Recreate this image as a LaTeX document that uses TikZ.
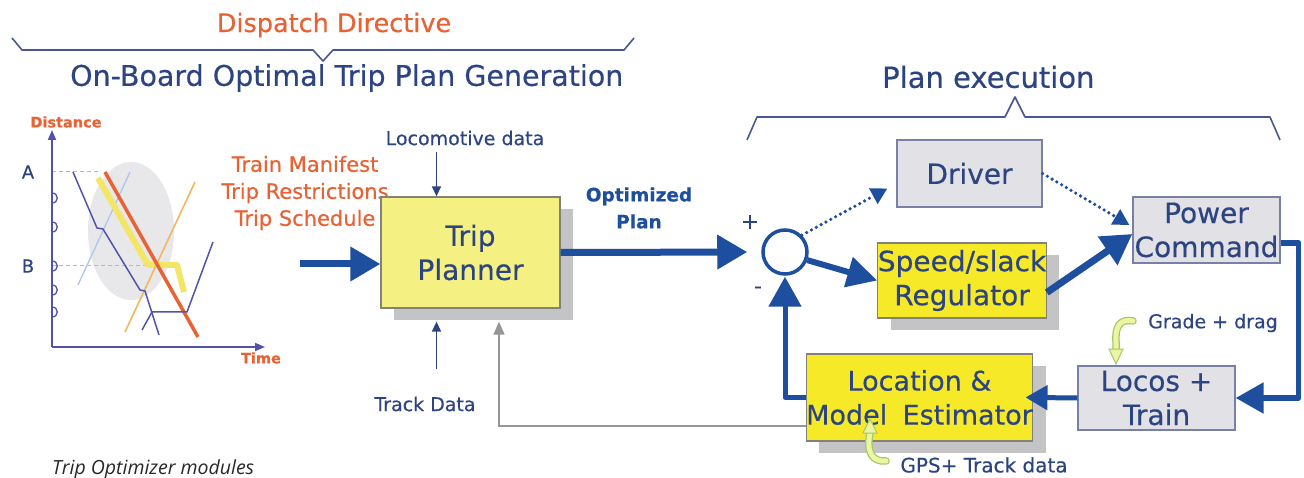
\documentclass[tikz,border=0pt]{standalone}
\usepackage{fontspec}
\setmainfont{DejaVu Sans}[FakeBold=0.4]
\newfontfamily\capfont{Open Sans}
\usetikzlibrary{arrows.meta,calc,shadows}

\definecolor{navy}{RGB}{45,68,130}
\definecolor{arrblue}{RGB}{30,78,158}
\definecolor{orng}{RGB}{232,98,52}
\definecolor{ltorng}{RGB}{245,182,95}
\definecolor{chartblue}{RGB}{82,82,168}
\definecolor{ltblue}{RGB}{175,198,235}
\definecolor{ylwline}{RGB}{242,230,100}
\definecolor{ellgray}{RGB}{232,232,235}
\definecolor{guidec}{RGB}{175,182,205}
\definecolor{bracec}{RGB}{72,88,150}
\definecolor{boxgray}{RGB}{226,226,230}
\definecolor{boxedge}{RGB}{120,128,165}
\definecolor{tpyel}{RGB}{244,240,130}
\definecolor{yel}{RGB}{246,234,40}
\definecolor{yedge}{RGB}{130,130,120}
\definecolor{shadowc}{RGB}{196,196,198}
\definecolor{fbgray}{RGB}{150,150,150}
\definecolor{sqfill}{RGB}{236,245,160}
\definecolor{sqedge}{RGB}{165,198,110}
\definecolor{capgray}{RGB}{40,40,40}

\begin{document}
\begin{tikzpicture}[x=1pt,y=-1pt,
  lbl/.style={inner sep=0pt, text=navy},
  box/.style={draw=boxedge, line width=1.3pt, inner sep=0pt, align=center, text=navy,
              font=\fontsize{28}{34}\selectfont},
  graybox/.style={box, fill=boxgray},
  ybox/.style={box, fill=yel, draw=yedge,
               drop shadow={shadow xshift=13pt, shadow yshift=-12pt, fill=shadowc, opacity=1}},
  bigarr/.style={draw=arrblue, line width=7pt, -{Triangle[length=30pt,width=33pt]}},
  thinarr/.style={draw=navy, line width=1.4pt, -{Triangle[length=10pt,width=9pt]}},
  dotarr/.style={draw=arrblue, line width=3.6pt, dash pattern=on 0pt off 5.5pt, line cap=round,
                 -{Triangle[length=16pt,width=17pt]}},
  bracestyle/.style={draw=bracec, line width=1.6pt, line join=round},
  axis/.style={draw=chartblue, line width=1.8pt, -{Triangle[length=10pt,width=8pt]}},
  guide/.style={draw=guidec, line width=1pt, dash pattern=on 4pt off 3pt},
]
\useasboundingbox (0,0) rectangle (1304,478);
\fill[white] (0,0) rectangle (1304,478);

% ---------- headings and braces ----------
\node[lbl, text=orng, font=\fontsize{25.5}{30}\selectfont] (dd) at (334,25) {Dispatch Directive};
\draw[bracestyle] (12,38) -- (22,50) -- (313,50) -- (323,61) -- (333,50) -- (624,50) -- (634,38);
\node[lbl, anchor=west, font=\fontsize{28.5}{34}\selectfont] (title) at (70,78) {On-Board Optimal Trip Plan Generation};

\node[lbl, anchor=west, font=\fontsize{29}{34}\selectfont] (pe) at (882,77) {Plan execution};
\draw[bracestyle] (747,140) -- (757,117) -- (1005,117) -- (1015,97) -- (1025,117) -- (1270,117) -- (1280,140);

% ---------- distance/time chart ----------
\fill[ellgray] (131,231) ellipse [x radius=43, y radius=69];
\draw[guide] (52,172) -- (100,172);
\draw[guide] (52,266) -- (152,266);
\draw[ltblue, line width=1.3pt] (78,285) -- (130,172);
\draw[ylwline, line width=6pt, line join=round] (98,178) -- (148,265) -- (177,265) -- (184,292);
\draw[ltorng, line width=1.6pt] (125,332) -- (195,182);
\draw[orng, line width=3.5pt] (105,172) -- (198,337);
\draw[chartblue, line width=1.5pt, line join=round] (73,172) -- (97,228) -- (103,229) -- (140,290) -- (145,291) -- (152,313) -- (159,335);
\draw[chartblue, line width=1.5pt, line join=round] (142,330) -- (152,312) -- (187,312) -- (213,242);
\draw[axis] (52,347) -- (52,130);
\draw[axis] (52,347) -- (265,347);
\foreach \yy in {198,227,266,290,312}
  \draw[chartblue, line width=1.3pt] (52,\yy-5) .. controls (59,\yy-5) and (59,\yy+5) .. (52,\yy+5);
\node[lbl, text=orng, font=\bfseries\fontsize{14.5}{17}\selectfont] (dist) at (66,122) {Distance};
\node[lbl, text=orng, font=\bfseries\fontsize{14.5}{17}\selectfont] (time) at (261,358) {Time};
\node[lbl, font=\fontsize{18}{20}\selectfont] (la) at (28,172) {A};
\node[lbl, font=\fontsize{18}{20}\selectfont] (lb) at (28,266) {B};

% ---------- inputs ----------
\node[lbl, text=orng, align=center, font=\fontsize{21}{27}\selectfont] (inputs) at (305,193)
  {Train Manifest\\Trip Restrictions\\Trip Schedule};

% ---------- Trip planner ----------
\node[ybox, fill=tpyel, minimum width=179pt, minimum height=111pt] (tp) at (470.5,252.5) {Trip\\Planner};
\node[lbl, font=\fontsize{19}{22}\selectfont] (locdata) at (465,138) {Locomotive data};
\node[lbl, font=\fontsize{19}{22}\selectfont] (trackdata) at (425,404) {Track Data};
\draw[thinarr] ([xshift=-34pt]tp.north |- 0,152) -- ([xshift=-34pt]tp.north);
\draw[thinarr] ([xshift=-34pt,yshift=-60pt]tp.south) -- ([xshift=-34pt,yshift=-13pt]tp.south);
\coordinate (inA) at (300,264);
\draw[bigarr] (inA) -- (inA -| tp.west);

\node[lbl, align=center, text=arrblue, font=\bfseries\fontsize{18.5}{27}\selectfont] (opt) at (639,208) {Optimized\\Plan};

% ---------- plan execution ----------
\node[circle, draw=arrblue, line width=3.5pt, minimum size=44pt, inner sep=0pt, fill=white] (sum) at (785,252) {};
\node[lbl, font=\fontsize{22}{24}\selectfont] (plus) at (750,222) {+};
\node[lbl, font=\fontsize{22}{24}\selectfont] (minus) at (758,290) {-};
\draw[bigarr, shorten >=14pt] (tp.east) -- (sum.west);

\node[graybox, minimum width=145pt, minimum height=67pt] (driver) at (969.5,173.5) {Driver};
\node[ybox, minimum width=160pt, minimum height=75pt] (reg) at (962,280.5) {Speed/slack\\Regulator};
\node[graybox, minimum width=147pt, minimum height=66pt] (power) at (1206.5,230) {Power\\Command};
\node[graybox, minimum width=157pt, minimum height=64pt] (locos) at (1156.5,398) {Locos +\\Train};

% gray feedback from estimator to trip planner
\draw[draw=fbgray, line width=1.6pt, -{Triangle[length=13pt,width=11pt]}]
  (820,426) -| ([xshift=28.5pt,yshift=-13pt]tp.south);
\node[ybox, minimum width=223pt, minimum height=87pt, font=\fontsize{27}{34}\selectfont] (loc) at (919.5,397.5)
  {Location \&\\Model\hspace{0.25em} Estimator};

\draw[dotarr] (sum.45) -- ([xshift=-9pt,yshift=-15pt]driver.west);
\draw[dotarr] (driver.east) -- ([xshift=-3pt,yshift=5pt]power.west);
\draw[draw=arrblue, line width=6pt, -{Triangle[length=30pt,width=30pt]}] (sum.-20) -- (reg.west);
\draw[bigarr] ([yshift=-12pt]reg.east) -- ([yshift=-4pt]power.west);
\draw[draw=arrblue, line width=5.5pt, line join=round, -{Triangle[length=28pt,width=30pt]}]
  ([yshift=-13pt]power.east) -- ++(18,0) |- (locos.east);
\draw[draw=arrblue, line width=5pt, -{Triangle[length=22pt,width=24pt]}, shorten >=-8pt] (locos.west) -- (loc.east);
\draw[draw=arrblue, line width=5pt, line join=round, -{Triangle[length=30pt,width=32pt]}, shorten >=1pt] (loc.west) -| (sum.south);

% ---------- side labels with squiggle arrows ----------
\node[lbl, font=\fontsize{19}{22}\selectfont] (grade) at (1213,323) {Grade + drag};
\node[lbl, font=\fontsize{20}{22}\selectfont] (gps) at (984,465) {GPS+ Track data};
\foreach \w/\c in {7.5/sqedge,5/sqfill}{
  \draw[\c, line width=\w pt, line cap=round] (1133,321) .. controls (1119,318) and (1115,328) .. (1116,342) -- (1116,350);
  \draw[\c, line width=\w pt, line cap=round] (886,461) .. controls (872,462) and (868,452) .. (869,440) -- (870,432);
}
\filldraw[fill=sqfill, draw=sqedge, line width=1pt] (1109,349) -- (1123,349) -- (1116,364) -- cycle;
\filldraw[fill=sqfill, draw=sqedge, line width=1pt] (863,433) -- (877,433) -- (870,419) -- cycle;

% ---------- caption ----------
\node[inner sep=0pt, anchor=west, text=capgray, font=\capfont\itshape\fontsize{19.5}{22}\selectfont] (cap) at (52,469) {Trip Optimizer modules};
\end{tikzpicture}
\end{document}
